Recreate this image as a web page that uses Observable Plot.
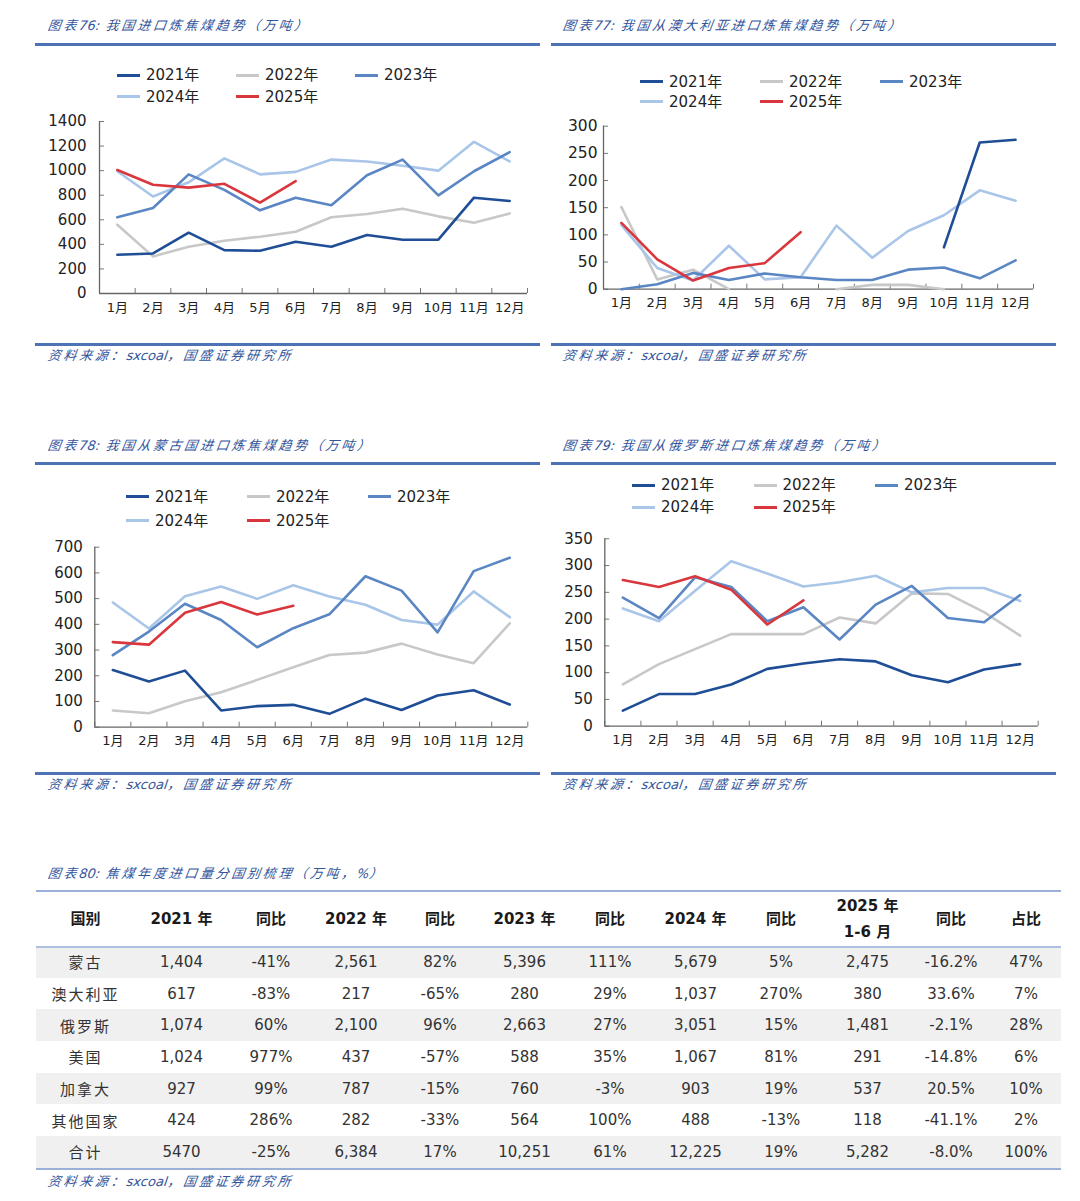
<!DOCTYPE html>
<html><head><meta charset="utf-8">
<script src="https://cdn.jsdelivr.net/npm/d3@7"></script>
<script src="https://cdn.jsdelivr.net/npm/@observablehq/plot@0.6"></script>
<style>
body{margin:0;background:#fff;}
#page{position:relative;width:1080px;height:1201px;overflow:hidden;background:#fff;font-family:"DejaVu Sans","Noto Sans CJK SC",sans-serif;}
.cap{position:absolute;font-family:"Noto Sans CJK SC",sans-serif;font-style:italic;font-size:13px;line-height:16px;color:#33559c;letter-spacing:2.7px;white-space:nowrap;transform:skewX(-8deg);}
.cap b{font-family:"DejaVu Sans";font-weight:normal;letter-spacing:0;}
.rule{position:absolute;background:#4d73b5;}
.chart{position:absolute;}
.lg{position:absolute;font-size:15px;line-height:18px;color:#222;white-space:nowrap;font-family:"DejaVu Sans","Noto Sans CJK SC";}
.sw{position:absolute;height:3px;width:23px;}
table{position:absolute;border-collapse:collapse;table-layout:fixed;font-family:"DejaVu Sans","Noto Sans CJK SC";}
td,th{text-align:center;padding:0;}
th{font-weight:bold;font-size:15px;color:#1a1a1a;height:54px;line-height:26px;}
td{font-size:15px;color:#333;height:31.7px;}
td.c{font-family:"Noto Sans CJK SC";letter-spacing:2px;color:#333;}
tr.s td{background:#f0f0f0;}
</style></head>
<body><div id="page"></div>
<script>
// ---------- data ----------
const months = [1,2,3,4,5,6,7,8,9,10,11,12];
const years = ["2021年","2022年","2023年","2024年","2025年"];
const lineColors = ["#1f4e96","#c8c8c8","#5b86c4","#a9c6e8","#d9373d"];

// 图表76 total
const total2021 = [315,326,495,353,348,421,381,476,438,438,780,753];
const total2022 = [560,302,381,430,462,503,620,647,690,628,576,652];
const total2023 = [620,696,970,843,677,780,718,962,1090,799,995,1150];
const total2024 = [995,790,905,1100,970,990,1090,1075,1040,1000,1235,1075];
const total2025 = [1005,885,862,893,740,915];
// 图表77 Australia
const aus2021 = [null,null,null,null,null,null,null,null,null,77,270,275];
const aus2022 = [151,18,36,0,null,null,0,8,8,0,null,null];
const aus2023 = [0,9,30,17,29,22,17,17,36,40,20,53];
const aus2024 = [118,39,16,80,18,22,117,58,107,136,182,163];
const aus2025 = [122,55,16,39,48,105];
// 图表78 Mongolia
const mon2021 = [222,178,220,65,82,87,52,111,67,123,144,88];
const mon2022 = [65,54,101,136,184,233,281,290,325,283,249,404];
const mon2023 = [280,372,480,417,311,385,439,587,531,369,607,659];
const mon2024 = [485,384,509,547,499,552,508,476,417,399,528,428];
const mon2025 = [331,321,445,487,438,472];
// 图表79 Russia
const rus2021 = [29,60,60,78,107,117,125,121,95,82,106,116];
const rus2022 = [78,116,144,172,172,172,203,192,248,247,213,169];
const rus2023 = [240,202,278,260,196,222,162,227,262,202,194,245];
const rus2024 = [220,196,253,308,285,261,269,281,250,258,258,234];
const rus2025 = [273,260,280,255,190,235];

// 图表80 table
const tableHeader = ["国别","2021 年","同比","2022 年","同比","2023 年","同比","2024 年","同比","2025 年<br>1-6 月","同比","占比"];
const countries = ["蒙古","澳大利亚","俄罗斯","美国","加拿大","其他国家","合计"];
const vol2021 = ["1,404","617","1,074","1,024","927","424","5470"];
const yoy2021 = ["-41%","-83%","60%","977%","99%","286%","-25%"];
const vol2022 = ["2,561","217","2,100","437","787","282","6,384"];
const yoy2022 = ["82%","-65%","96%","-57%","-15%","-33%","17%"];
const vol2023 = ["5,396","280","2,663","588","760","564","10,251"];
const yoy2023 = ["111%","29%","27%","35%","-3%","100%","61%"];
const vol2024 = ["5,679","1,037","3,051","1,067","903","488","12,225"];
const yoy2024 = ["5%","270%","15%","81%","19%","-13%","19%"];
const vol2025 = ["2,475","380","1,481","291","537","118","5,282"];
const yoy2025 = ["-16.2%","33.6%","-2.1%","-14.8%","20.5%","-41.1%","-8.0%"];
const share2025 = ["47%","7%","28%","6%","10%","2%","100%"];

// ---------- layout helpers ----------
const page = document.getElementById("page");
function el(tag, cls, css, html) {
  const e = document.createElement(tag);
  if (cls) e.className = cls;
  Object.assign(e.style, css);
  if (html != null) e.innerHTML = html;
  page.appendChild(e);
  return e;
}
function cap(x, yc, html) { el("div", "cap", {left: x + "px", top: (yc - 8) + "px"}, html); }
function rule(x1, x2, y, h, color) { el("div", "rule", {left: x1 + "px", top: y + "px", width: (x2 - x1) + "px", height: h + "px", background: color || "#4d73b5"}); }

function legend(x0, dx, y1, y2) {
  const pos = [[x0, y1], [x0 + dx, y1], [x0 + 2 * dx, y1], [x0, y2], [x0 + dx, y2]];
  years.forEach((yr, i) => {
    const [x, y] = pos[i];
    el("div", "sw", {left: x + "px", top: (y - 1.5) + "px", background: lineColors[i]});
    el("div", "lg", {left: (x + 29) + "px", top: (y - 9) + "px"}, yr);
  });
}

const drawOrder = [1, 3, 2, 0, 4];
function chart({left, top, width, height, mt, mr, mb, ml, yMax, yStep, series, pad, yFont}) {
  const rows = [];
  drawOrder.forEach(i => series[i].forEach((v, j) => rows.push({month: months[j], value: v == null ? NaN : v, year: years[i]})));
  const yTicks = d3.range(0, yMax + 1, yStep);
  const bounds = [0, ...months].map(m => m + 0.5);
  const svg = Plot.plot({
    width, height, marginTop: mt, marginRight: mr, marginBottom: mb, marginLeft: ml,
    x: {domain: [0.5, 12.5]},
    y: {domain: [0, yMax]},
    color: {domain: years, range: lineColors},
    style: {fontFamily: "DejaVu Sans, Noto Sans CJK SC", background: "transparent", overflow: "visible", color: "#222"},
    marks: [
      Plot.axisY({ticks: yTicks, tickSize: -5, tickPadding: pad + 5, tickFormat: d => String(d), fontSize: yFont, stroke: "#777", fill: "#222", label: null}),
      Plot.axisX({ticks: bounds, tickSize: -5, tickFormat: () => "", stroke: "#777", label: null}),
      Plot.axisX({ticks: months, tickSize: 0, tickPadding: 9, tickFormat: m => m + "月", fontSize: 13, fill: "#222", label: null}),
      Plot.ruleY([0], {stroke: "#666", strokeWidth: 1.3}),
      Plot.ruleX([0.5], {stroke: "#666", strokeWidth: 1.3}),
      Plot.line(rows, {x: "month", y: "value", z: "year", stroke: "year", strokeWidth: 2.6})
    ]
  });
  const d = el("div", "chart", {left: left + "px", top: top + "px"});
  d.appendChild(svg);
}

// ---------- headers / rules ----------
cap(48, 25, "图表<b>76:</b> 我国进口炼焦煤趋势（万吨）");
cap(563, 25, "图表<b>77:</b> 我国从澳大利亚进口炼焦煤趋势（万吨）");
rule(35, 540, 43, 3); rule(551, 1056, 43, 3);
rule(35, 540, 343, 2.5); rule(551, 1056, 343, 2.5);
cap(48, 355, "资料来源：<b>sxcoal</b>，国盛证券研究所");
cap(563, 355, "资料来源：<b>sxcoal</b>，国盛证券研究所");

cap(48, 445, "图表<b>78:</b> 我国从蒙古国进口炼焦煤趋势（万吨）");
cap(563, 445, "图表<b>79:</b> 我国从俄罗斯进口炼焦煤趋势（万吨）");
rule(35, 540, 462, 3); rule(551, 1056, 462, 3);
rule(35, 540, 772, 2.5); rule(551, 1056, 772, 2.5);
cap(48, 784, "资料来源：<b>sxcoal</b>，国盛证券研究所");
cap(563, 784, "资料来源：<b>sxcoal</b>，国盛证券研究所");

cap(48, 873, "图表<b>80:</b> 焦煤年度进口量分国别梳理（万吨，<b>%</b>）");
cap(48, 1181, "资料来源：<b>sxcoal</b>，国盛证券研究所");

// ---------- charts ----------
legend(117, 119, 75, 96.5);
chart({left: 40, top: 110, width: 500, height: 220, mt: 11, mr: 13, mb: 37, ml: 59, yMax: 1400, yStep: 200, pad: 13, yFont: 15,
  series: [total2021, total2022, total2023, total2024, total2025]});
legend(640, 120, 81.5, 101.5);
chart({left: 555, top: 110, width: 500, height: 220, mt: 15.7, mr: 22, mb: 41.3, ml: 48, yMax: 300, yStep: 50, pad: 6, yFont: 15.5,
  series: [aus2021, aus2022, aus2023, aus2024, aus2025]});
legend(126, 121, 496.5, 520.5);
chart({left: 40, top: 530, width: 500, height: 230, mt: 16.7, mr: 12.7, mb: 33.3, ml: 54.3, yMax: 700, yStep: 100, pad: 12, yFont: 15,
  series: [mon2021, mon2022, mon2023, mon2024, mon2025]});
legend(632, 121.5, 485, 507);
chart({left: 555, top: 525, width: 500, height: 235, mt: 13.3, mr: 17.3, mb: 34.3, ml: 49.3, yMax: 350, yStep: 50, pad: 12, yFont: 15,
  series: [rus2021, rus2022, rus2023, rus2024, rus2025]});

// ---------- table ----------
const colW = [99, 93, 86, 84, 84, 85, 86, 85, 86, 87, 80, 70];
const tbl = el("table", null, {left: "36px", top: "892px", width: "1025px"});
const cg = document.createElement("colgroup");
colW.forEach(w => { const c = document.createElement("col"); c.style.width = w + "px"; cg.appendChild(c); });
tbl.appendChild(cg);
const thr = document.createElement("tr");
tableHeader.forEach(h => { const th = document.createElement("th"); th.innerHTML = h; thr.appendChild(th); });
tbl.appendChild(thr);
const cols = [vol2021, yoy2021, vol2022, yoy2022, vol2023, yoy2023, vol2024, yoy2024, vol2025, yoy2025, share2025];
countries.forEach((c, i) => {
  const tr = document.createElement("tr");
  if (i % 2 === 0) tr.className = "s";
  const td0 = document.createElement("td"); td0.className = "c"; td0.textContent = c; tr.appendChild(td0);
  cols.forEach(col => { const td = document.createElement("td"); td.textContent = col[i]; tr.appendChild(td); });
  tbl.appendChild(tr);
});
rule(36, 1061, 890, 2, "#9bb0d6");
rule(36, 1061, 946, 2, "#adc0e0");
rule(36, 1061, 1168, 2, "#9bb0d6");
</script>
</body></html>
